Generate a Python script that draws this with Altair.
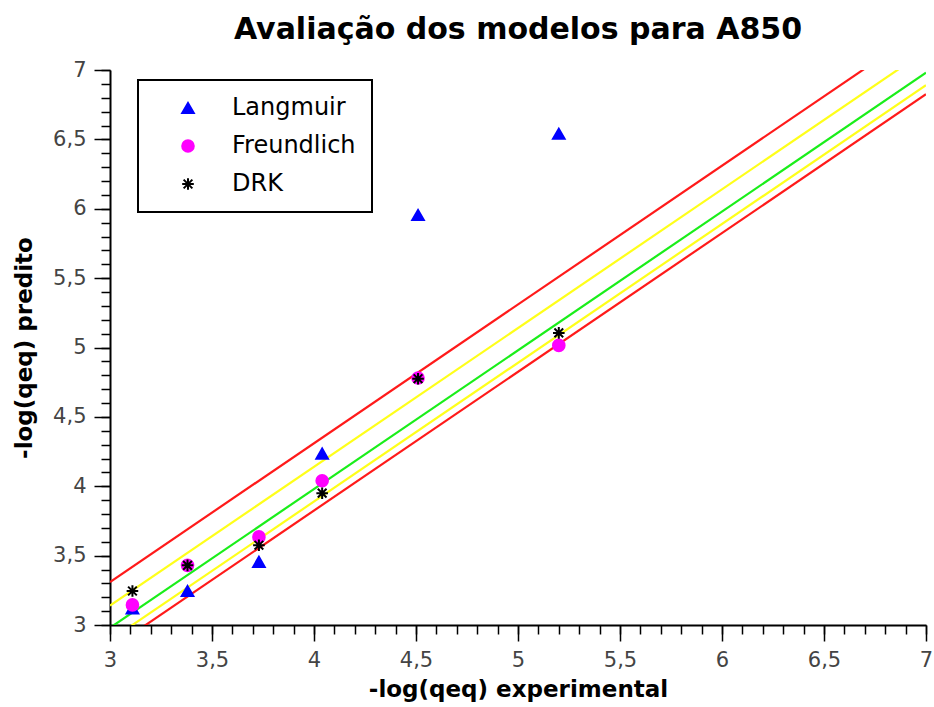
import altair as alt
import pandas as pd

# Experimental -log(qeq) values and the predictions from each isotherm model
x_exp = [3.11, 3.38, 3.73, 4.04, 4.51, 5.20]
langmuir = [3.12, 3.245, 3.455, 4.235, 5.955, 6.54]
freundlich = [3.145, 3.43, 3.635, 4.04, 4.78, 5.015]
drk = [3.245, 3.43, 3.575, 3.95, 4.775, 5.105]

models = ["Langmuir", "Freundlich", "DRK"]
model_colors = ["#0000ff", "#ff00ff", "#000000"]
asterisk = "M-1,0L1,0M0,-1L0,1M-0.75,-0.75L0.75,0.75M-0.75,0.75L0.75,-0.75"
model_shapes = ["triangle-up", "circle", asterisk]

# Reference band: lines y = x + offset
line_offsets = [0.31, 0.14, -0.02, -0.11, -0.175]
line_colors = ["#ff1a1a", "#ffff1a", "#1aee1a", "#ffff1a", "#ff1a1a"]

axis_range = [3, 7]
major_ticks = [3, 3.5, 4, 4.5, 5, 5.5, 6, 6.5, 7]
minor_ticks = [round(3 + 0.1 * i, 1) for i in range(41)]

points = pd.concat(
    [
        pd.DataFrame({"model": "Langmuir", "x": x_exp, "y": langmuir}),
        pd.DataFrame({"model": "Freundlich", "x": x_exp, "y": freundlich}),
        pd.DataFrame({"model": "DRK", "x": x_exp, "y": drk}),
    ],
    ignore_index=True,
)

rows = []
for i, (off, col) in enumerate(zip(line_offsets, line_colors)):
    for xv in axis_range:
        rows.append({"line": i, "color": col, "x": xv, "y": xv + off})
lines_df = pd.DataFrame(rows)

comma = "replace(format(datum.value, '.1~f'), '.', ',')"
xs = alt.Scale(domain=axis_range, nice=False, zero=False)
ys = alt.Scale(domain=axis_range, nice=False, zero=False)

major_x = alt.Axis(
    orient="bottom", values=major_ticks, tickSize=16, labelExpr=comma,
    title="-log(qeq) experimental", grid=False, titlePadding=8, labelPadding=8,
    labelFlush=False,
)
major_y = alt.Axis(
    orient="left", values=major_ticks, tickSize=16, labelExpr=comma,
    title="-log(qeq) predito", grid=False, titlePadding=16, labelPadding=8,
    labelFlush=False,
)
minor_x = alt.Axis(
    orient="bottom", values=minor_ticks, tickSize=9, labels=False,
    domain=False, title=None, grid=False,
)
minor_y = alt.Axis(
    orient="left", values=minor_ticks, tickSize=9, labels=False,
    domain=False, title=None, grid=False,
)

lines = (
    alt.Chart(lines_df)
    .mark_line(strokeWidth=2.2, clip=True)
    .encode(
        x=alt.X("x:Q", scale=xs, axis=major_x),
        y=alt.Y("y:Q", scale=ys, axis=major_y),
        detail="line:N",
        color=alt.Color("color:N", scale=None),
    )
)

model_scale = alt.Scale(domain=models, range=model_colors)
legend = alt.Legend(
    title=None, orient="none", legendX=28, legendY=10, padding=16,
    symbolOffset=22, labelOffset=32, rowPadding=14,
    labelExpr="datum.label == 'DRK' ? '\u00a0DRK' : datum.label",
)

pts = (
    alt.Chart(points)
    .mark_point(filled=False, size=135, strokeWidth=2, opacity=1)
    .encode(
        x=alt.X("x:Q", scale=xs, axis=minor_x),
        y=alt.Y("y:Q", scale=ys, axis=minor_y),
        color=alt.Color("model:N", scale=model_scale, legend=legend, sort=models),
        fill=alt.Fill("model:N", scale=model_scale, legend=legend, sort=models),
        shape=alt.Shape("model:N", scale=alt.Scale(domain=models, range=model_shapes),
                        legend=legend, sort=models),
    )
)

chart = (
    alt.layer(lines, pts)
    .resolve_axis(x="independent", y="independent")
    .properties(
        width=816,
        height=555,
        padding={"left": 110, "top": 70, "right": 8, "bottom": 82},
        autosize=alt.AutoSizeParams(type="none"),
        title=alt.TitleParams(
            "Avaliação dos modelos para A850", font="DejaVu Sans",
            fontSize=30, fontWeight="bold", anchor="middle", color="black",
            offset=14,
        ),
    )
    .configure_view(stroke=None)
    .configure_axis(
        domainColor="black", domainWidth=2, tickColor="black", tickWidth=1.5,
        labelFont="DejaVu Sans", labelFontSize=21, labelColor="#444444",
        titleFont="DejaVu Sans", titleFontSize=23, titleFontWeight="bold",
        titleColor="black",
    )
    .configure_legend(
        strokeColor="black", strokeWidth=2, labelFont="DejaVu Sans",
        labelFontSize=24, labelColor="black", symbolSize=135,
        symbolStrokeWidth=2,
    )
)

chart.save("out.html", embed_options={"renderer": "svg", "actions": False})
